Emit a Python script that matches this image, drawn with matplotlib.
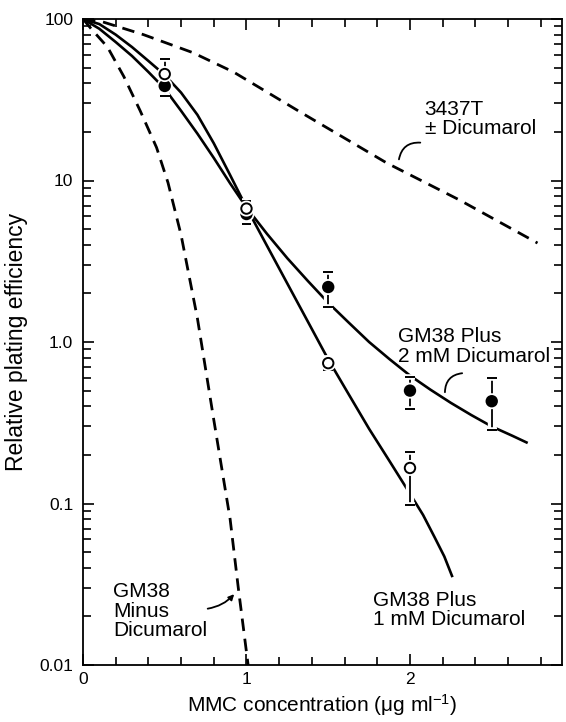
import numpy as np
import matplotlib
matplotlib.use("Agg")
import matplotlib.pyplot as plt
import matplotlib.patheffects as pe
from matplotlib.ticker import FixedLocator, FixedFormatter, MultipleLocator, LogLocator, NullFormatter

plt.rcParams['font.family'] = ['Liberation Sans', 'DejaVu Sans']
plt.rcParams['mathtext.fontset'] = 'custom'
plt.rcParams['mathtext.rm'] = 'Liberation Sans'
plt.rcParams['mathtext.it'] = 'Liberation Sans'
plt.rcParams['mathtext.default'] = 'regular'

# ---- data ----
# fitted curves
x_t3437 = [0, 0.12, 0.37, 0.67, 0.92, 1.33, 1.86, 2.3, 2.78]
y_t3437 = [100, 96, 80, 62, 47, 26.5, 12.8, 7.6, 4.1]

x_minus = [0, 0.05, 0.15, 0.25, 0.35, 0.45, 0.52, 0.6, 0.7, 0.8, 0.9, 0.95, 1.01]
y_minus = [100, 87, 67, 44, 27, 16, 9.7, 4.6, 1.4, 0.33, 0.08, 0.03, 0.01]

x_plus1 = [0, 0.1, 0.2, 0.3, 0.4, 0.5, 0.6, 0.7, 0.8, 0.9, 1.0, 1.125, 1.25,
           1.375, 1.5, 1.625, 1.75, 1.875, 2.0, 2.08, 2.15, 2.21, 2.26]
y_plus1 = [100, 93, 80, 67, 55, 45, 35, 25.5, 17, 10.8, 6.8, 3.95, 2.3,
           1.34, 0.78, 0.475, 0.29, 0.183, 0.115, 0.085, 0.062, 0.047, 0.035]

x_plus2 = [0, 0.1, 0.2, 0.3, 0.4, 0.5, 0.6, 0.7, 0.8, 0.9, 1.0, 1.125, 1.25,
           1.375, 1.5, 1.625, 1.75, 1.875, 2.0, 2.125, 2.25, 2.375, 2.5, 2.625, 2.72]
y_plus2 = [100, 87, 72, 59, 47, 37, 27, 19.5, 13.8, 9.6, 6.8, 4.68, 3.3,
           2.39, 1.75, 1.32, 1.0, 0.783, 0.62, 0.507, 0.42, 0.353, 0.30, 0.263, 0.237]

# measured points: 2 mM (filled) and 1 mM (open)
x_filled = [0.5, 1.0, 1.5, 2.0, 2.5]
y_filled = [38.5, 6.2, 2.19, 0.50, 0.43]
lo_filled = [33.3, 5.4, 1.65, 0.385, 0.285]
hi_filled = [44.0, 7.0, 2.71, 0.607, 0.60]

x_open = [0.5, 1.0, 1.5, 2.0]
y_open = [45.6, 6.7, 0.74, 0.166]
lo_open = [41.0, 6.0, 0.67, 0.098]
hi_open = [56.5, 7.5, 0.80, 0.208]

y_ticks = [100, 10, 1.0, 0.1, 0.01]
y_ticklabels = ['100', '10', '1.0', '0.1', '0.01']
x_ticks = [0, 1, 2]
x_ticklabels = ['0', '1', '2']

# ---- figure ----
fig = plt.figure(figsize=(5.66, 7.22), dpi=100)
ax = fig.add_axes([0.1466, 0.0789, 0.8464, 0.8948])
ax.set_yscale('log')
ax.set_xlim(0, 2.93)
ax.set_ylim(0.01, 100)

solid_kw = dict(color='black', lw=1.9, solid_capstyle='butt',
                solid_joinstyle='round', zorder=2)
dash_kw = dict(color='black', lw=2.0, linestyle=(0, (4.5, 2.8)), zorder=2)

ax.plot(x_t3437, y_t3437, **dash_kw)
ax.plot(x_minus, y_minus, **dash_kw)
ax.plot(x_plus1, y_plus1, **solid_kw)
ax.plot(x_plus2, y_plus2, **solid_kw)

halo = [pe.withStroke(linewidth=6, foreground='white')]

def draw_points(xs, ys, lo, hi, face):
    yerr = [np.array(ys) - np.array(lo), np.array(hi) - np.array(ys)]
    line, caps, bars = ax.errorbar(xs, ys, yerr=yerr, fmt='o', ms=7.5,
                                   mfc=face, mec='black', mew=1.4,
                                   ecolor='black', elinewidth=1.3,
                                   capsize=3.5, capthick=1.3, zorder=4)
    for b in bars:
        b.set_path_effects(halo)
        b.set_zorder(3)
    for c in caps:
        c.set_path_effects([pe.withStroke(linewidth=4, foreground='white')])
    line.set_path_effects([pe.withStroke(linewidth=4, foreground='white')])

draw_points(x_filled, y_filled, lo_filled, hi_filled, 'black')
draw_points(x_open, y_open, lo_open, hi_open, 'white')

# ---- axes styling ----
for s in ax.spines.values():
    s.set_linewidth(1.3)

ax.yaxis.set_major_locator(FixedLocator(y_ticks))
ax.yaxis.set_major_formatter(FixedFormatter(y_ticklabels))
ax.yaxis.set_minor_locator(LogLocator(base=10, subs=np.arange(2, 10)))
ax.yaxis.set_minor_formatter(NullFormatter())
ax.xaxis.set_major_locator(FixedLocator(x_ticks))
ax.xaxis.set_major_formatter(FixedFormatter(x_ticklabels))
ax.xaxis.set_minor_locator(MultipleLocator(0.2))

ax.tick_params(which='both', direction='in', top=True, right=True,
               width=1.2, labelsize=12.5, color='black')
ax.tick_params(which='major', length=8)
ax.tick_params(which='minor', length=5.5)
ax.tick_params(axis='y', which='major', pad=7)
ax.tick_params(axis='x', which='major', pad=5)

ax.set_ylabel('Relative plating efficiency', fontsize=16.5, labelpad=8)
ax.set_xlabel(r'MMC concentration ($\mu$g ml$^{-1}$)', fontsize=15, labelpad=4)

# ---- annotations ----
txt_kw = dict(fontsize=15, linespacing=1.05, ha='left', va='center')
ax.text(2.09, 24, '3437T\n\u00b1 Dicumarol', **txt_kw)
ax.text(1.927, 0.94, 'GM38 Plus\n2 mM Dicumarol', **txt_kw)
ax.text(1.774, 0.0219, 'GM38 Plus\n1 mM Dicumarol', **txt_kw)
ax.text(0.183, 0.0216, 'GM38\nMinus\nDicumarol', **txt_kw)

lead = dict(arrowstyle='-', color='black', lw=1.3)
ax.annotate('', xy=(1.93, 13.0), xytext=(2.08, 17.1),
            arrowprops=dict(connectionstyle='arc3,rad=0.5', **lead))
ax.annotate('', xy=(2.214, 0.47), xytext=(2.336, 0.643),
            arrowprops=dict(connectionstyle='arc3,rad=0.5', **lead))
ax.annotate('', xy=(0.936, 0.0283), xytext=(0.746, 0.0222),
            arrowprops=dict(arrowstyle='-|>', color='black', lw=1.3,
                            mutation_scale=8, connectionstyle='arc3,rad=0.2'))

fig.savefig('out.png', dpi=100)
